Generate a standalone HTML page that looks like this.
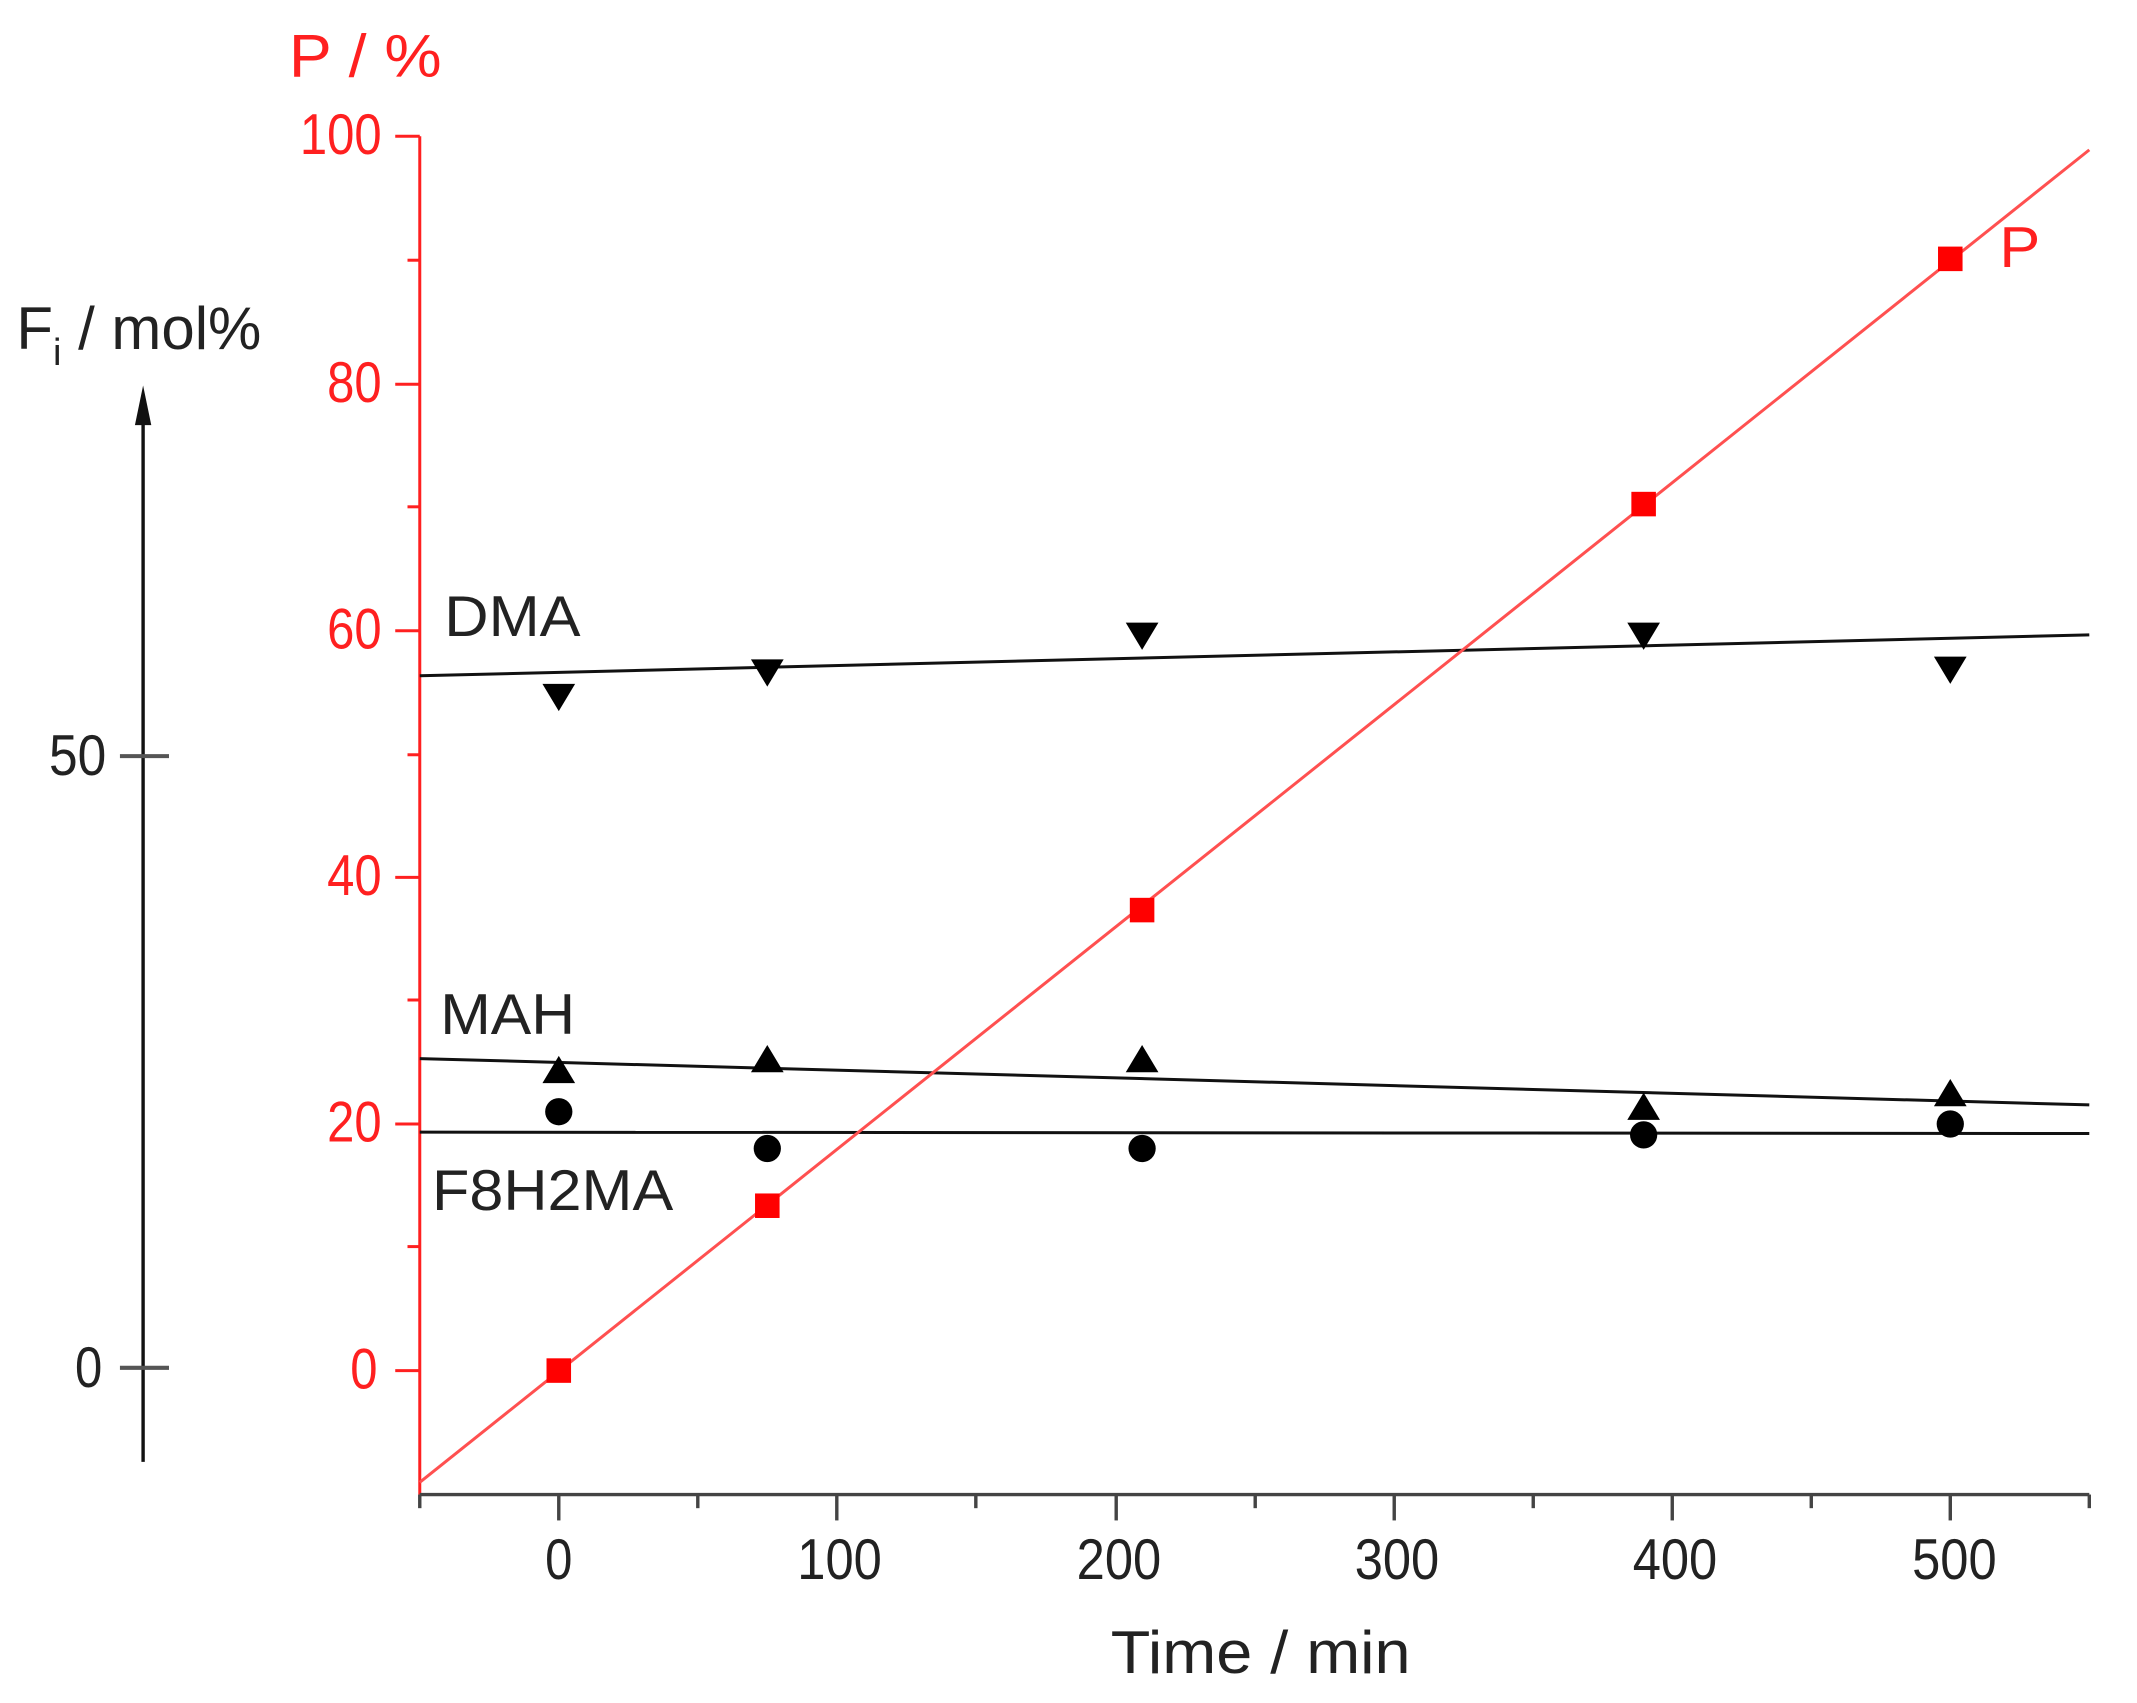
<!DOCTYPE html>
<html><head><meta charset="utf-8"><style>html,body{margin:0;padding:0;background:#fff;overflow:hidden}svg{display:block}</style></head>
<body>
<svg width="2137" height="1703" viewBox="0 0 1568 1250" preserveAspectRatio="none" xmlns="http://www.w3.org/2000/svg" font-family="Liberation Sans, Arial, sans-serif">
<rect width="1568" height="1250" fill="#fff"/>
<!-- red axis -->
<g stroke="#ff2020" stroke-width="2.2" fill="none">
<line x1="308" y1="100" x2="308" y2="1097"/>
<line x1="290" y1="100" x2="308" y2="100"/>
<line x1="290" y1="282" x2="308" y2="282"/>
<line x1="290" y1="463" x2="308" y2="463"/>
<line x1="290" y1="644" x2="308" y2="644"/>
<line x1="290" y1="825" x2="308" y2="825"/>
<line x1="290" y1="1006" x2="308" y2="1006"/>
<line x1="299" y1="191" x2="308" y2="191"/>
<line x1="299" y1="372" x2="308" y2="372"/>
<line x1="299" y1="554" x2="308" y2="554"/>
<line x1="299" y1="734" x2="308" y2="734"/>
<line x1="299" y1="915" x2="308" y2="915"/>
</g>
<g fill="#ff2020" font-size="42" text-anchor="end" lengthAdjust="spacingAndGlyphs">
<text x="280" y="113" textLength="60" lengthAdjust="spacingAndGlyphs">100</text>
<text x="280" y="295" textLength="40" lengthAdjust="spacingAndGlyphs">80</text>
<text x="280" y="476" textLength="40" lengthAdjust="spacingAndGlyphs">60</text>
<text x="280" y="657" textLength="40" lengthAdjust="spacingAndGlyphs">40</text>
<text x="280" y="838" textLength="40" lengthAdjust="spacingAndGlyphs">20</text>
<text x="277" y="1019" textLength="20" lengthAdjust="spacingAndGlyphs">0</text>
<text x="212" y="56" text-anchor="start" font-size="44" textLength="112" lengthAdjust="spacingAndGlyphs">P / %</text>
</g>
<!-- x axis -->
<g stroke="#444" stroke-width="2.5">
<line x1="308" y1="1097" x2="1533" y2="1097"/>
<line x1="308" y1="1097" x2="308" y2="1107"/>
<line x1="410" y1="1097" x2="410" y2="1116"/><line x1="512" y1="1097" x2="512" y2="1107"/>
<line x1="614" y1="1097" x2="614" y2="1116"/><line x1="716" y1="1097" x2="716" y2="1107"/>
<line x1="819" y1="1097" x2="819" y2="1116"/><line x1="921" y1="1097" x2="921" y2="1107"/>
<line x1="1023" y1="1097" x2="1023" y2="1116"/><line x1="1125" y1="1097" x2="1125" y2="1107"/>
<line x1="1227" y1="1097" x2="1227" y2="1116"/><line x1="1329" y1="1097" x2="1329" y2="1107"/>
<line x1="1431" y1="1097" x2="1431" y2="1116"/><line x1="1533" y1="1097" x2="1533" y2="1107"/>
</g>
<g fill="#222" font-size="42" text-anchor="middle">
<text x="410" y="1159" textLength="20" lengthAdjust="spacingAndGlyphs">0</text>
<text x="616" y="1159" textLength="62" lengthAdjust="spacingAndGlyphs">100</text>
<text x="821" y="1159" textLength="62" lengthAdjust="spacingAndGlyphs">200</text>
<text x="1025" y="1159" textLength="62" lengthAdjust="spacingAndGlyphs">300</text>
<text x="1229" y="1159" textLength="62" lengthAdjust="spacingAndGlyphs">400</text>
<text x="1434" y="1159" textLength="62" lengthAdjust="spacingAndGlyphs">500</text>
<text x="925" y="1228" font-size="44" textLength="220" lengthAdjust="spacingAndGlyphs">Time  / min</text>
</g>
<!-- left Fi axis -->
<g stroke="#111" stroke-width="2.5">
<line x1="105" y1="1073" x2="105" y2="300"/>
</g>
<g stroke="#555" stroke-width="3">
<line x1="88" y1="555" x2="124" y2="555"/>
<line x1="88" y1="1004" x2="124" y2="1004"/>
</g>
<polygon points="105,283 99,312 111,312" fill="#111"/>
<g fill="#222" font-size="42" text-anchor="end">
<text x="78" y="569" textLength="42" lengthAdjust="spacingAndGlyphs">50</text>
<text x="75" y="1018" textLength="20" lengthAdjust="spacingAndGlyphs">0</text>
</g>
<text x="12" y="256" font-size="44" fill="#222">F<tspan font-size="28" dy="12">i</tspan><tspan dy="-12"> / mol%</tspan></text>
<!-- fit lines -->
<g stroke="#111" stroke-width="2.2">
<line x1="308" y1="496" x2="1533" y2="466"/>
<line x1="308" y1="777" x2="1533" y2="811"/>
<line x1="308" y1="831" x2="1533" y2="832"/>
</g>
<line x1="308" y1="1088" x2="1533" y2="110" stroke="#ff5050" stroke-width="2.2"/>
<!-- markers -->
<g fill="#ff0000">
<rect x="401" y="997" width="18" height="18"/><rect x="554" y="876" width="18" height="18"/>
<rect x="829" y="659" width="18" height="18"/><rect x="1197" y="361" width="18" height="18"/>
<rect x="1422" y="181" width="18" height="18"/>
</g>
<g fill="#000">
<polygon points="398,502 422,502 410,522"/><polygon points="551,484 575,484 563,504"/>
<polygon points="826,457 850,457 838,477"/><polygon points="1194,457 1218,457 1206,477"/>
<polygon points="1419,482 1443,482 1431,502"/>
<polygon points="398,795 422,795 410,775"/><polygon points="551,787 575,787 563,767"/>
<polygon points="826,787 850,787 838,767"/><polygon points="1194,822 1218,822 1206,802"/>
<polygon points="1419,812 1443,812 1431,792"/>
<circle cx="410" cy="816" r="10"/><circle cx="563" cy="843" r="10"/>
<circle cx="838" cy="843" r="10"/><circle cx="1206" cy="833" r="10"/>
<circle cx="1431" cy="825" r="10"/>
</g>
<g fill="#222" font-size="42">
<text x="326" y="467" textLength="100" lengthAdjust="spacingAndGlyphs">DMA</text>
<text x="323" y="759" textLength="99" lengthAdjust="spacingAndGlyphs">MAH</text>
<text x="317" y="888" textLength="177" lengthAdjust="spacingAndGlyphs">F8H2MA</text>
</g>
<text x="1467" y="196" font-size="42" fill="#ff2020" textLength="30" lengthAdjust="spacingAndGlyphs">P</text>
</svg>
</body></html>
